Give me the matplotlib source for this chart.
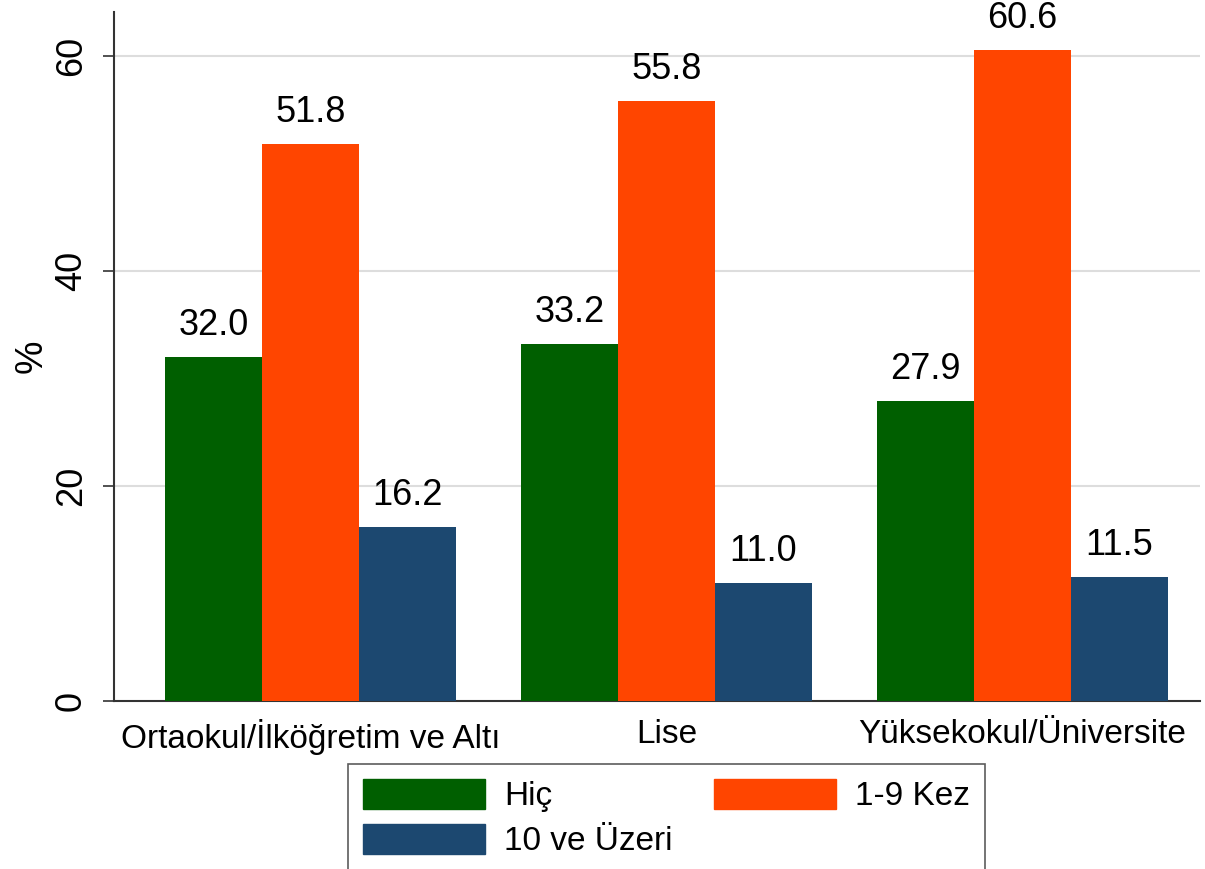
import matplotlib
matplotlib.use("Agg")
import matplotlib.pyplot as plt
import numpy as np
from matplotlib.patches import Patch

plt.rcParams['font.family'] = ['Liberation Sans', 'DejaVu Sans']

categories = ["Ortaokul/İlköğretim ve Altı", "Lise", "Yüksekokul/Üniversite"]
series_names = ["Hiç", "1-9 Kez", "10 ve Üzeri"]
hic = [32.0, 33.2, 27.9]
kez19 = [51.8, 55.8, 60.6]
ustu10 = [16.2, 11.0, 11.5]
colors = ["#005f00", "#ff4500", "#1c4870"]
yticks = [0, 20, 40, 60]

fig = plt.figure(figsize=(12.05, 8.69), dpi=100)
ax = fig.add_axes([114/1205, 168/869, (1200-114)/1205, (701-12)/869])

x = np.arange(len(categories))
w = 0.2725
for i, (vals, c) in enumerate(zip([hic, kez19, ustu10], colors)):
    pos = x + (i - 1) * w
    ax.bar(pos, vals, width=w, color=c, zorder=3, linewidth=0)
    for p, v in zip(pos, vals):
        ax.annotate(f"{v:.1f}", (p, v), xytext=(0, 10), textcoords="offset points",
                    ha="center", va="bottom", fontsize=26)

ax.set_xlim(-0.553, 2.5)
ax.set_ylim(0, 64.1)
ax.set_yticks(yticks)
ax.set_yticklabels([str(t) for t in yticks], rotation=90, va="center", fontsize=26)
ax.set_xticks(x)
ax.set_xticklabels(categories, fontsize=24)
ax.tick_params(axis="x", length=0, pad=13)
ax.tick_params(axis="y", length=8, width=1.2, color="#333333", pad=10)
for t in yticks[1:]:
    ax.axhline(t, color="#dddddd", linewidth=1.5, zorder=1)
ax.spines["top"].set_visible(False)
ax.spines["right"].set_visible(False)
ax.spines["left"].set_color("#333333")
ax.spines["bottom"].set_color("#333333")
ax.spines["left"].set_linewidth(1.5)
ax.spines["bottom"].set_linewidth(1.5)
ax.set_ylabel("%", fontsize=27)
ax.yaxis.set_label_coords(-64/1086, 0.5)

handles = [Patch(color=colors[0], label=series_names[0]),
           Patch(color=colors[2], label=series_names[2]),
           Patch(color=colors[1], label=series_names[1])]
leg = fig.legend(handles=handles, ncol=2, loc="upper left",
                 bbox_to_anchor=(348/1205, 1 - 765/869, (985-348)/1205, 0.001),
                 mode="expand", fontsize=24,
                 frameon=True, fancybox=False, edgecolor="#333333",
                 handlelength=3.66, handleheight=1.0,
                 handletextpad=0.57, borderpad=0.45, labelspacing=0.35,
                 borderaxespad=0)
leg.get_frame().set_linewidth(1.2)

fig.savefig("out.png", dpi=100)
